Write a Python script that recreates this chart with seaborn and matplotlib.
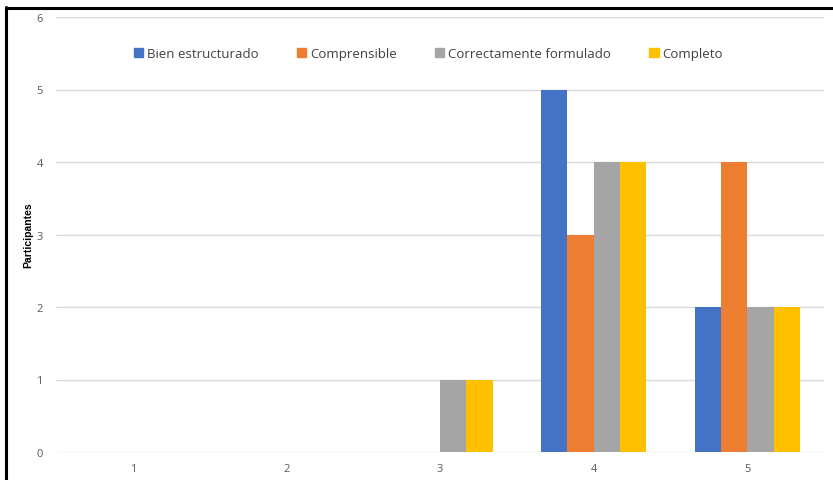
import matplotlib
matplotlib.use("Agg")
import matplotlib.pyplot as plt
from matplotlib.lines import Line2D
import seaborn as sns
import pandas as pd

categories = ["1", "2", "3", "4", "5"]
series_names = ["Bien estructurado", "Comprensible", "Correctamente formulado", "Completo"]
bien_estructurado = [0, 0, 0, 5, 2]
comprensible = [0, 0, 0, 3, 4]
correctamente_formulado = [0, 0, 1, 4, 2]
completo = [0, 0, 1, 4, 2]
colors = ["#4472C4", "#ED7D31", "#A5A5A5", "#FFC000"]

rows = []
for name, vals in zip(series_names,
                      [bien_estructurado, comprensible, correctamente_formulado, completo]):
    for c, v in zip(categories, vals):
        rows.append({"Categoria": c, "Serie": name, "Participantes": v})
df = pd.DataFrame(rows)

sns.set_theme(style="white")
plt.rcParams["font.family"] = ["Open Sans", "DejaVu Sans"]

fig = plt.figure(figsize=(8.33, 4.81), dpi=100)
ax = fig.add_axes([56 / 833, 1 - 453 / 481, (824 - 56) / 833, (453 - 18) / 481])

sns.barplot(data=df, x="Categoria", y="Participantes", hue="Serie",
            hue_order=series_names, order=categories, palette=colors,
            width=0.685, gap=0, saturation=1, linewidth=0, ax=ax, legend=False)

ax.set_ylim(0, 6)
ax.set_xlim(-0.5, 4.5)
ax.set_yticks(range(0, 7))
ax.yaxis.grid(True, color="#D9D9D9", linewidth=1)
ax.set_axisbelow(True)
for s in ax.spines.values():
    s.set_visible(False)
ax.tick_params(axis="both", length=0, labelsize=8, colors="#595959")
ax.tick_params(axis="y", pad=9.5)
ax.tick_params(axis="x", pad=8)
ax.set_xlabel("")
ax.set_ylabel("Participantes", fontsize=7.5, fontweight="bold", color="#000000",
              family=["Liberation Sans Narrow", "Liberation Sans", "DejaVu Sans"])
ax.yaxis.set_label_coords(-0.029, 0.5)

handles = [plt.Rectangle((0, 0), 1, 1, color=c) for c in colors]
leg = ax.legend(handles, series_names, loc="center", bbox_to_anchor=(0.485, 0.915),
                ncol=4, frameon=False, fontsize=9.5, handlelength=0.7,
                handleheight=0.7, handletextpad=0.3, columnspacing=2.9)
for t in leg.get_texts():
    t.set_color("#404040")

# frame lines along the left and top edges
fig.add_artist(Line2D([6 / 833, 6 / 833], [0, 1 - 8 / 481], color="black",
                      linewidth=2.2, transform=fig.transFigure))
fig.add_artist(Line2D([6 / 833, 1], [1 - 9 / 481, 1 - 9 / 481], color="black",
                      linewidth=2.2, transform=fig.transFigure))

fig.savefig("out.png", dpi=100)
